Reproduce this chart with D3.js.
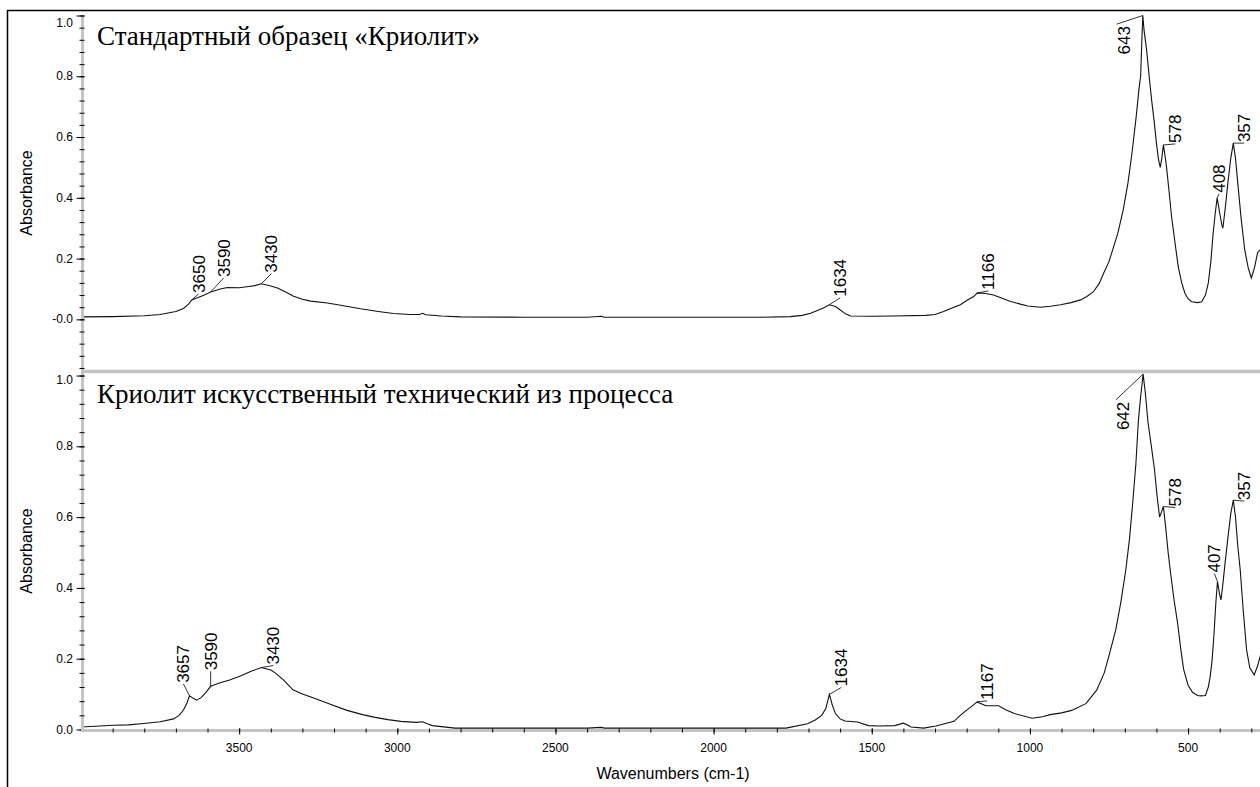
<!DOCTYPE html>
<html>
<head>
<meta charset="utf-8">
<script src="https://cdn.jsdelivr.net/npm/d3@7"></script>
<style>
  body { margin: 0; background: #fff; }
  svg { display: block; font-family: 'Liberation Sans', Arial, sans-serif; }
  .title { font-family: 'Liberation Serif', 'Times New Roman', serif; font-size: 27px; }
  .tick-label { font-size: 12px; fill: #000; }
  .axis-label { font-size: 16px; fill: #000; }
  .peak-label { font-size: 17px; fill: #000; }
</style>
</head>
<body>
<svg id="chart"></svg>
<script>
// IR spectra: [wavenumber cm-1, absorbance]
const standardSpectrum = [
  [4000, 0.008], [3900, 0.009], [3800, 0.012], [3750, 0.016], [3700, 0.026], [3676, 0.036],
  [3660, 0.05], [3650, 0.064], [3630, 0.072], [3610, 0.08], [3590, 0.09], [3560, 0.1],
  [3537, 0.105], [3500, 0.104], [3470, 0.108], [3450, 0.111], [3430, 0.117], [3400, 0.11],
  [3379, 0.103], [3350, 0.088], [3328, 0.076], [3300, 0.066], [3274, 0.06], [3221, 0.054],
  [3170, 0.045], [3116, 0.035], [3060, 0.026], [3012, 0.019], [2960, 0.016], [2930, 0.016],
  [2920, 0.02], [2910, 0.015], [2860, 0.011], [2800, 0.008], [2600, 0.007], [2400, 0.007],
  [2355, 0.01], [2345, 0.007], [2200, 0.007], [2000, 0.007], [1852, 0.007], [1757, 0.009],
  [1720, 0.013], [1693, 0.02], [1653, 0.037], [1634, 0.048], [1615, 0.042], [1605, 0.035],
  [1583, 0.018], [1567, 0.011], [1500, 0.01], [1431, 0.011], [1330, 0.013], [1300, 0.016],
  [1273, 0.026], [1250, 0.036], [1220, 0.048], [1200, 0.062], [1178, 0.075], [1166, 0.087],
  [1140, 0.085], [1115, 0.08], [1090, 0.07], [1061, 0.059], [1030, 0.05], [1007, 0.044],
  [966, 0.04], [935, 0.043], [903, 0.048], [870, 0.055], [840, 0.064], [820, 0.075],
  [799, 0.091], [780, 0.12], [767, 0.152], [750, 0.19], [735, 0.24], [722, 0.284],
  [705, 0.36], [690, 0.449], [677, 0.55], [664, 0.667], [655, 0.76], [650, 0.8],
  [646, 0.92], [643, 1.0], [639, 0.95], [631, 0.886], [623, 0.8], [615, 0.72],
  [607, 0.65], [600, 0.58], [594, 0.53], [588, 0.5], [583, 0.53], [578, 0.574],
  [573, 0.54], [568, 0.5], [560, 0.42], [552, 0.337], [541, 0.25], [531, 0.173],
  [520, 0.12], [510, 0.086], [500, 0.068], [489, 0.058], [470, 0.055], [457, 0.058],
  [445, 0.08], [436, 0.12], [428, 0.19], [421, 0.28], [414, 0.35], [408, 0.4],
  [400, 0.35], [393, 0.31], [390, 0.3], [382, 0.37], [374, 0.45], [365, 0.53],
  [357, 0.58], [350, 0.53], [343, 0.45], [332, 0.33], [321, 0.23], [310, 0.17],
  [300, 0.136], [290, 0.17], [280, 0.22], [271, 0.23]
];

const technicalSpectrum = [
  [4000, 0.007], [3897, 0.012], [3850, 0.013], [3802, 0.017], [3750, 0.022], [3707, 0.03],
  [3690, 0.04], [3676, 0.055], [3665, 0.075], [3657, 0.095], [3645, 0.088], [3635, 0.083],
  [3620, 0.09], [3605, 0.105], [3590, 0.122], [3560, 0.132], [3530, 0.14], [3500, 0.15],
  [3460, 0.165], [3430, 0.175], [3400, 0.168], [3386, 0.16], [3360, 0.14], [3330, 0.112],
  [3300, 0.1], [3273, 0.092], [3216, 0.073], [3159, 0.054], [3110, 0.042], [3074, 0.035],
  [3030, 0.028], [2989, 0.023], [2940, 0.02], [2920, 0.022], [2905, 0.016], [2889, 0.011],
  [2818, 0.004], [2600, 0.004], [2400, 0.004], [2355, 0.006], [2345, 0.004], [2000, 0.004],
  [1771, 0.004], [1703, 0.016], [1680, 0.026], [1658, 0.04], [1645, 0.06], [1634, 0.099],
  [1625, 0.07], [1615, 0.045], [1600, 0.03], [1585, 0.024], [1545, 0.021], [1511, 0.011],
  [1477, 0.01], [1427, 0.011], [1400, 0.018], [1385, 0.012], [1376, 0.007], [1336, 0.004],
  [1297, 0.01], [1240, 0.023], [1220, 0.04], [1201, 0.054], [1180, 0.068], [1167, 0.078],
  [1139, 0.067], [1099, 0.067], [1075, 0.055], [1049, 0.045], [993, 0.032], [960, 0.036],
  [936, 0.042], [900, 0.047], [868, 0.054], [823, 0.073], [789, 0.111], [765, 0.16],
  [751, 0.205], [729, 0.28], [713, 0.357], [697, 0.45], [685, 0.54], [675, 0.64],
  [665, 0.75], [657, 0.874], [650, 0.94], [642, 1.004], [635, 0.95], [627, 0.87],
  [616, 0.8], [606, 0.733], [598, 0.66], [590, 0.6], [584, 0.615], [578, 0.63],
  [571, 0.573], [563, 0.5], [555, 0.44], [545, 0.37], [533, 0.3], [522, 0.22],
  [514, 0.17], [500, 0.125], [486, 0.105], [470, 0.096], [461, 0.095], [445, 0.096],
  [436, 0.12], [430, 0.15], [424, 0.196], [418, 0.27], [412, 0.36], [407, 0.418],
  [401, 0.385], [396, 0.366], [390, 0.41], [383, 0.47], [373, 0.55], [365, 0.61],
  [357, 0.648], [350, 0.6], [343, 0.52], [335, 0.45], [325, 0.33], [315, 0.225],
  [305, 0.175], [291, 0.154], [280, 0.18], [271, 0.21]
];

const standardPeaks = [3650, 3590, 3430, 1634, 1166, 643, 578, 408, 357];
const technicalPeaks = [3657, 3590, 3430, 1634, 1167, 642, 578, 407, 357];

const panelTitles = ['Стандартный образец «Криолит»', 'Криолит искусственный технический из процесса'];

const xDomain = [4000, 271];
const xTickValues = [3500, 3000, 2500, 2000, 1500, 1000, 500];
const xTickLabels = ['3500', '3000', '2500', '2000', '1500', '1000', '500'];

const yDomainTop = [-0.17, 1.0];
const yDomainBottom = [0, 1.01];
const yTickValues = [0, 0.2, 0.4, 0.6, 0.8, 1.0];
const yTickLabelsTop = ['-0.0', '0.2', '0.4', '0.6', '0.8', '1.0'];
const yTickLabelsBottom = ['0.0', '0.2', '0.4', '0.6', '0.8', '1.0'];

const yAxisTitle = 'Absorbance';
const xAxisTitle = 'Wavenumbers (cm-1)';

// label placement (offset of text start from the peak point, px)
const labelLayout = {
  'top-3650': { dx: 13, dy: -7 },
  'top-3590': { dx: 19, dy: -15 },
  'top-3430': { dx: 16, dy: -11 },
  'top-1634': { dx: 17, dy: -8 },
  'top-1166': { dx: 17, dy: -3 },
  'top-643': { dx: -13, dy: 39, toEnd: true },
  'top-578': { dx: 18, dy: -2 },
  'top-408': { dx: 8, dy: -5 },
  'top-357': { dx: 17, dy: -1 },
  'bottom-3657': { dx: 0, dy: -13 },
  'bottom-3590': { dx: 6, dy: -16 },
  'bottom-3430': { dx: 18, dy: -3 },
  'bottom-1634': { dx: 18, dy: -8 },
  'bottom-1167': { dx: 16, dy: -2 },
  'bottom-642': { dx: -14, dy: 56, toEnd: true },
  'bottom-578': { dx: 18, dy: 0 },
  'bottom-407': { dx: 3, dy: -9 },
  'bottom-357': { dx: 17, dy: 0 }
};

const width = 1260;
const height = 787;
const axisGray = '#c4c4c4';
const axisX = 82.5;

const svg = d3.select('#chart')
  .attr('width', width)
  .attr('height', height);

const xScale = d3.scaleLinear()
  .domain(xDomain)
  .range([81, 1260.5]);

const panels = [
  {
    key: 'top', title: panelTitles[0], data: standardSpectrum, peaks: standardPeaks,
    yScale: d3.scaleLinear().domain(yDomainTop).range([371, 15.5]),
    top: 15, bottom: 371, labels: yTickLabelsTop, titleY: 45,
    minor: d3.range(-4, 26).map(i => i * 0.04)
  },
  {
    key: 'bottom', title: panelTitles[1], data: technicalSpectrum, peaks: technicalPeaks,
    yScale: d3.scaleLinear().domain(yDomainBottom).range([729.5, 372]),
    top: 372, bottom: 730, labels: yTickLabelsBottom, titleY: 403,
    minor: d3.range(0, 26).map(i => i * 0.04)
  }
];

const line = d3.line().curve(d3.curveLinear);
const capH = 17 * 0.716;

panels.forEach(p => {
  const y = p.yScale;

  svg.append('clipPath')
    .attr('id', `clip-${p.key}`)
    .append('rect')
    .attr('x', 81).attr('y', p.top - 2)
    .attr('width', width - 81).attr('height', p.bottom - p.top + 2);

  // title
  svg.append('text')
    .attr('class', 'title')
    .attr('x', 97)
    .attr('y', p.titleY)
    .text(p.title);

  // spectrum
  svg.append('path')
    .datum(p.data)
    .attr('clip-path', `url(#clip-${p.key})`)
    .attr('fill', 'none')
    .attr('stroke', '#111')
    .attr('stroke-width', 1.1)
    .attr('d', line.x(d => xScale(d[0])).y(d => y(d[1])));

  // peak labels
  p.peaks.forEach(wn => {
    const abs = p.data.find(d => d[0] === wn)[1];
    const px = xScale(wn);
    const py = y(abs);
    const lay = labelLayout[`${p.key}-${wn}`] || { dx: 17, dy: -4 };
    const tx = px + lay.dx;
    const ty = py + lay.dy;
    const txt = String(wn);
    const len = txt.length * 0.556 * 17;

    const lx = lay.toEnd ? tx - capH - 1 : tx - capH / 2;
    const ly = lay.toEnd ? ty - len - 2 : ty + 1;
    if (Math.hypot(lx - px, ly - py) > 3) {
      svg.append('line')
        .attr('x1', px).attr('y1', py)
        .attr('x2', lx).attr('y2', ly)
        .attr('stroke', '#000')
        .attr('stroke-width', 0.8);
    }

    svg.append('text')
      .attr('class', 'peak-label')
      .attr('transform', `translate(${tx},${ty}) rotate(-90)`)
      .text(txt);
  });

  // y axis
  svg.append('line')
    .attr('x1', axisX).attr('x2', axisX)
    .attr('y1', p.top).attr('y2', p.bottom)
    .attr('stroke', axisGray)
    .attr('stroke-width', 3);

  const minorG = svg.append('g')
    .attr('transform', `translate(${axisX + 2},0)`)
    .call(d3.axisLeft(y).tickValues(p.minor).tickSize(5).tickFormat(''));
  minorG.select('.domain').remove();

  const majorG = svg.append('g')
    .attr('transform', `translate(${axisX + 2},0)`)
    .call(d3.axisLeft(y).tickValues(yTickValues).tickSize(8).tickFormat(''));
  majorG.select('.domain').remove();

  svg.selectAll(null)
    .data(yTickValues)
    .enter().append('text')
    .attr('class', 'tick-label')
    .attr('x', 73)
    .attr('y', d => Math.max(y(d), p.top + 8))
    .attr('text-anchor', 'end')
    .attr('dominant-baseline', 'central')
    .text((d, i) => p.labels[i]);

  svg.append('text')
    .attr('class', 'axis-label')
    .attr('transform', `translate(32,${(p.top + p.bottom) / 2}) rotate(-90)`)
    .attr('text-anchor', 'middle')
    .text(yAxisTitle);
});

// separator between panels
svg.append('line')
  .attr('x1', 81).attr('x2', width)
  .attr('y1', 371.5).attr('y2', 371.5)
  .attr('stroke', axisGray)
  .attr('stroke-width', 3.5);

// x axis
svg.append('line')
  .attr('x1', 81).attr('x2', width)
  .attr('y1', 730.5).attr('y2', 730.5)
  .attr('stroke', axisGray)
  .attr('stroke-width', 3);

const xMinorG = svg.append('g')
  .attr('transform', 'translate(0,728.5)')
  .call(d3.axisBottom(xScale).tickValues(d3.range(300, 4000, 100)).tickSize(4).tickFormat(''));
xMinorG.select('.domain').remove();

const xMajorG = svg.append('g')
  .attr('transform', 'translate(0,728.5)')
  .call(d3.axisBottom(xScale).tickValues(xTickValues).tickSize(6).tickFormat(''));
xMajorG.select('.domain').remove();

svg.selectAll(null)
  .data(xTickValues)
  .enter().append('text')
  .attr('class', 'tick-label')
  .attr('x', d => xScale(d))
  .attr('y', 752)
  .attr('text-anchor', 'middle')
  .text((d, i) => xTickLabels[i]);

svg.append('text')
  .attr('class', 'axis-label')
  .attr('x', 673)
  .attr('y', 779)
  .attr('text-anchor', 'middle')
  .text(xAxisTitle);

// outer frame
svg.append('path')
  .attr('d', `M7.5,${height} V10.5 H${width}`)
  .attr('fill', 'none')
  .attr('stroke', '#000')
  .attr('stroke-width', 1.5);
</script>
</body>
</html>
